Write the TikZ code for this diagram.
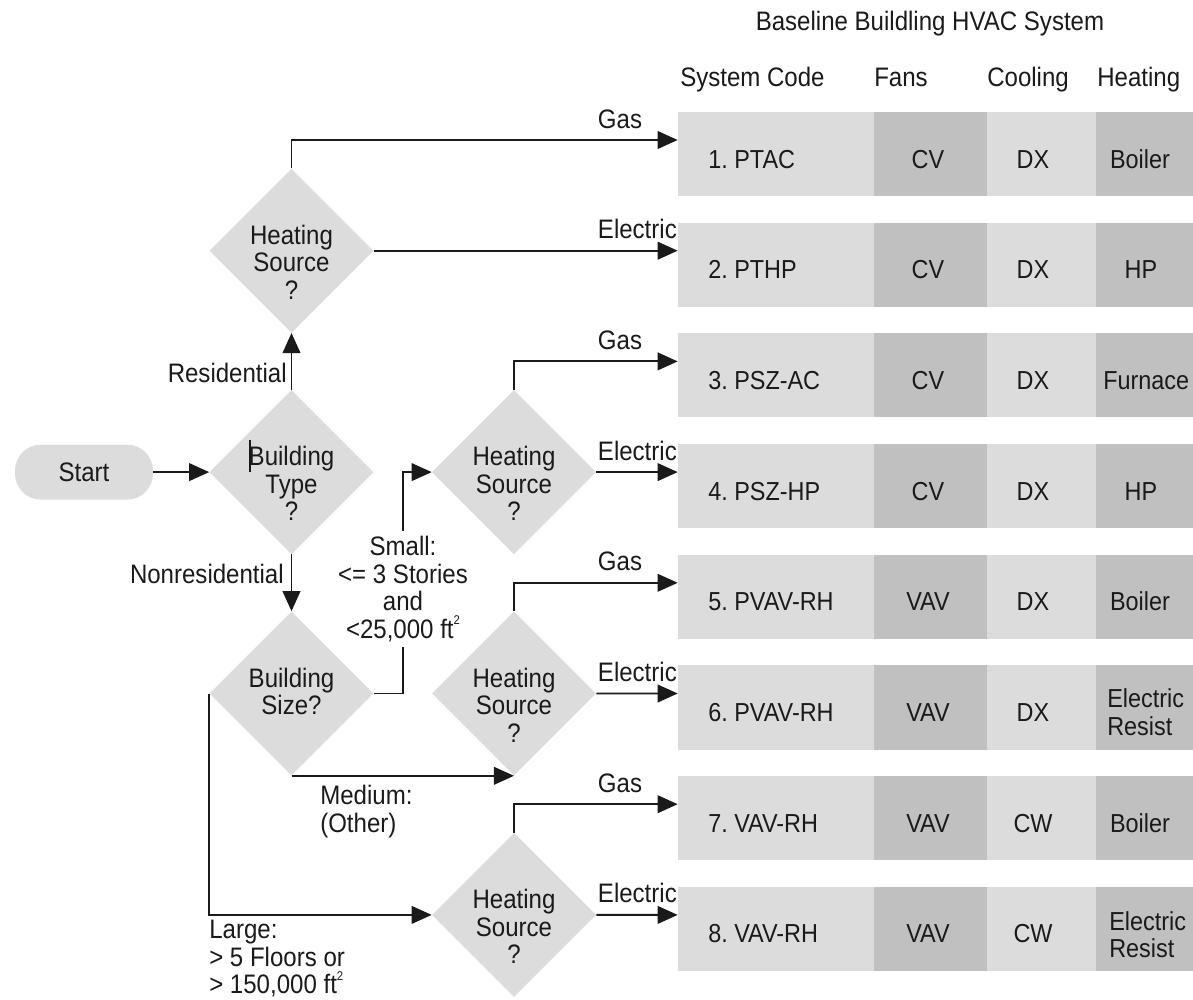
\documentclass[tikz,border=0pt]{standalone}
\usepackage{fontspec}
\setmainfont{Liberation Sans}[FakeStretch=0.9]
\usetikzlibrary{shapes.geometric,arrows.meta,calc}
\definecolor{lg}{HTML}{DCDCDC}
\definecolor{dg}{HTML}{C0C0C0}
\definecolor{ink}{HTML}{1A1A1A}
\newcommand{\sqsup}{\raisebox{0.5em}{\fontsize{9}{9}\selectfont 2}}
\begin{document}
\begin{tikzpicture}[x=0.025cm,y=-0.025cm,
  font=\fontsize{19}{19.6}\selectfont, text=ink,
  line/.style={draw=ink,line width=1.3pt},
  arr/.style={line,-{Triangle[length=0.5cm,width=0.44cm]}},
  dia/.style={diamond,fill=lg,draw=none,minimum width=4.1cm,minimum height=4.1cm,inner sep=0pt},
  cellL/.style={rectangle,fill=lg,draw=none,minimum height=2.1cm,inner sep=0pt},
  cellD/.style={cellL,fill=dg},
  txt/.style={inner sep=0pt},
  dtext/.style={txt,align=center,anchor=north},
  rowt/.style={txt,font=\fontsize{18.5}{19.6}\selectfont}
]
\useasboundingbox (0,0) rectangle (1193,1000);

% header
\node[txt,anchor=base] (title) at (930,30) {Baseline Buildling HVAC System};
\node[txt,anchor=base west] (hcode) at (680,86) {System Code};
\node[txt,anchor=base west] (hfans) at (874,86) {Fans};
\node[txt,anchor=base west] (hcool) at (987,86) {Cooling};
\node[txt,anchor=base west] (hheat) at (1097,86) {Heating};

% table rows
\foreach \i/\code/\fan/\cool in {1/PTAC/CV/DX, 2/PTHP/CV/DX, 3/PSZ-AC/CV/DX, 4/PSZ-HP/CV/DX, 5/PVAV-RH/VAV/DX, 6/PVAV-RH/VAV/DX, 7/VAV-RH/VAV/CW, 8/VAV-RH/VAV/CW}{
  \pgfmathsetmacro{\yc}{154+110.7*(\i-1)}
  \node[cellL,minimum width=4.9cm] (code\i) at (776,\yc) {};
  \node[cellD,minimum width=2.825cm] (fan\i) at (930.5,\yc) {};
  \node[cellL,minimum width=2.725cm] (cool\i) at (1041.5,\yc) {};
  \node[cellD,minimum width=2.425cm] (heat\i) at (1144.5,\yc) {};
  \coordinate (in\i) at ($(code\i.west)+(0,-14)$);
  \node[rowt,anchor=base west] (codet\i) at (708,\yc+14) {\i.\ \code};
  \node[rowt,anchor=base] (fant\i) at (928,\yc+14) {\fan};
  \node[rowt,anchor=base] (coolt\i) at (1033,\yc+14) {\cool};
}
\node[rowt,anchor=base] (heatt1) at (1140,168) {Boiler};
\node[rowt,anchor=base] (heatt2) at (1141,278.7) {HP};
\node[rowt,anchor=base west] (heatt3) at (1103,389.4) {Furnace};
\node[rowt,anchor=base] (heatt4) at (1141,500.1) {HP};
\node[rowt,anchor=base] (heatt5) at (1140,610.8) {Boiler};
\node[rowt,anchor=north west,align=left] (heatt6) at (1107,688.5) {Electric\\Resist};
\node[rowt,anchor=base] (heatt7) at (1140,832.2) {Boiler};
\node[rowt,anchor=north west,align=left] (heatt8) at (1109,911) {Electric\\Resist};

% flowchart nodes
\node[rectangle,fill=lg,draw=none,rounded corners=0.65cm,minimum width=3.45cm,minimum height=1.375cm,inner sep=0pt] (start) at (84,472.1) {Start};
\node[dia] (bt) at (291.5,472.1) {};
\node[dia] (bs) at (291.5,693.5) {};
\node[dia] (hs1) at (291.5,250.7) {};
\node[dia] (hs2) at (514,472.1) {};
\node[dia] (hs3) at (514,693.5) {};
\node[dia] (hs4) at (514,914.9) {};

\node[dtext] (btt) at ($(bt)+(0,-26)$) {Building\\Type\\?};
\node[dtext] (bst) at ($(bs)+(0,-26)$) {Building\\Size?};
\foreach \n in {hs1,hs2,hs3,hs4}{
  \node[dtext] (\n t) at ($(\n)+(0,-26)$) {Heating\\Source\\?};
}
\draw[draw=ink,line width=0.8pt] (250,440) -- (250,472);

% labels
\node[txt,anchor=base east] (lres) at (287,382) {Residential};
\node[txt,anchor=base east] (lnon) at (284,583) {Nonresidential};
\node[txt,align=center,anchor=north,inner xsep=0pt,inner ysep=0.125cm] (small) at (403,531) {Small:\\<= 3 Stories\\and\\<25,000 ft\sqsup};
\node[txt,align=left,anchor=north west] (lmed) at (320,785) {Medium:\\(Other)};
\node[txt,align=left,anchor=north west] (llarge) at (209,920) {Large:\\> 5 Floors or\\> 150,000 ft\sqsup};
\foreach \i/\w in {1/Gas,2/Electric,3/Gas,4/Electric,5/Gas,6/Electric,7/Gas,8/Electric}{
  \node[txt,anchor=base west] (lab\i) at ($(in\i)+(-80,-12)$) {\w};
}

% connectors
\draw[arr] (start.east) -- (bt.west);
\draw[arr] (bt.north) -- (hs1.south);
\draw[arr] (bt.south) -- (bs.north);
\draw[arr] (hs1.north) |- (in1);
\draw[arr] (hs1.east) -- (in2);
\draw[arr] (hs2.north) |- (in3);
\draw[arr] (hs2.east) -- (in4);
\draw[arr] (hs3.north) |- (in5);
\draw[arr] (hs3.east) -- (in6);
\draw[arr] (hs4.north) |- (in7);
\draw[arr] (hs4.east) -- (in8);
\draw[line] (bs.east) -| (small.south);
\draw[arr] (small.north) |- (hs2.west);
\draw[arr] (bs.south) -- (hs3.south);
\draw[arr] (bs.west) |- (hs4.west);
\end{tikzpicture}
\end{document}
